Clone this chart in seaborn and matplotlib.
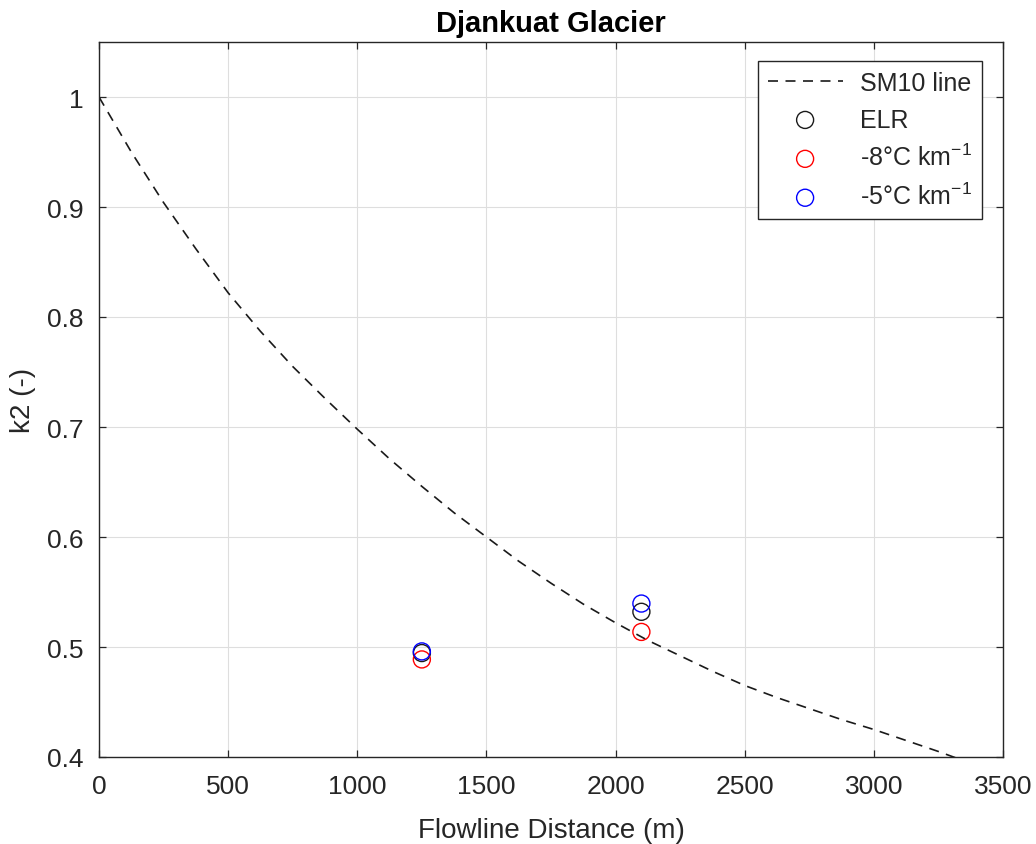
import matplotlib
matplotlib.use("Agg")
import matplotlib.pyplot as plt
import matplotlib.ticker as mticker
import seaborn as sns

# SM10 line
sm10_x = [0, 125, 250, 375, 500, 625, 750, 875, 1000, 1125, 1250, 1375, 1500, 1625,
          1750, 1875, 2000, 2125, 2250, 2375, 2500, 2625, 2750, 2875, 3000, 3125, 3250, 3320]
sm10_y = [1.0, 0.950, 0.904, 0.862, 0.822, 0.787, 0.755, 0.726, 0.698, 0.671, 0.646, 0.622,
          0.600, 0.578, 0.558, 0.539, 0.522, 0.506, 0.492, 0.478, 0.465, 0.454, 0.444, 0.434,
          0.425, 0.415, 0.405, 0.399]

# Points
pt_x = [1250, 2100]
elr_y = [0.4945, 0.532]
m8_y = [0.4887, 0.5137]
m5_y = [0.496, 0.5395]

x_ticks = [0, 500, 1000, 1500, 2000, 2500, 3000, 3500]
y_ticks = [0.4, 0.5, 0.6, 0.7, 0.8, 0.9, 1.0]

sns.set_theme(style="ticks")
plt.rcParams['font.family'] = ['Liberation Sans', 'DejaVu Sans']
plt.rcParams['mathtext.fontset'] = 'custom'
plt.rcParams['mathtext.rm'] = 'Liberation Sans'

fig = plt.figure(figsize=(10.36, 8.45), dpi=100)
ax = fig.add_axes([99/1036, 1 - 758/845, (1003-99)/1036, (758-43)/845])

sns.lineplot(x=sm10_x, y=sm10_y, ax=ax, color='#1a1a1a', linestyle=(0, (6, 4.5)),
             linewidth=1.2, label='SM10 line', estimator=None, sort=False)
sns.scatterplot(x=pt_x, y=elr_y, ax=ax, marker='o', s=150, facecolors='none',
                edgecolor='#1a1a1a', linewidth=1.0, label='ELR', zorder=3)
sns.scatterplot(x=pt_x, y=m8_y, ax=ax, marker='o', s=150, facecolors='none',
                edgecolor='red', linewidth=1.0, label='-8°C km$^{-1}$', zorder=3)
sns.scatterplot(x=pt_x, y=m5_y, ax=ax, marker='o', s=150, facecolors='none',
                edgecolor='blue', linewidth=1.0, label='-5°C km$^{-1}$', zorder=3)

ax.set_xlim(0, 3500)
ax.set_ylim(0.4, 1.05)
ax.set_xticks(x_ticks)
ax.set_yticks(y_ticks)
ax.yaxis.set_major_formatter(mticker.FormatStrFormatter('%g'))
ax.grid(True, color='#dedede', linewidth=0.8)
ax.set_axisbelow(True)
for s in ax.spines.values():
    s.set_color('#262626')
    s.set_linewidth(1.0)
ax.tick_params(direction='in', top=True, right=True, length=5, width=0.9,
               colors='#262626', labelsize=19)
ax.tick_params(axis='x', pad=12)
ax.tick_params(axis='y', pad=11)
ax.set_xlabel('Flowline Distance (m)', fontsize=20, color='#262626', labelpad=14)
ax.set_ylabel('k2 (-)', fontsize=20, color='#262626', labelpad=8)
ax.set_title('Djankuat Glacier', fontsize=21, fontweight='bold', color='black', pad=8)

leg = ax.legend(loc='upper right', fontsize=18, frameon=True, fancybox=False,
                edgecolor='#262626', framealpha=1, borderaxespad=0.0,
                handlelength=3.0, handletextpad=0.7, labelspacing=0.5, borderpad=0.4)
leg.get_frame().set_linewidth(1.0)
leg.set_bbox_to_anchor(((982-99)/904, 1 - (62-43)/715), transform=ax.transAxes)

fig.savefig('out.png', dpi=100)
